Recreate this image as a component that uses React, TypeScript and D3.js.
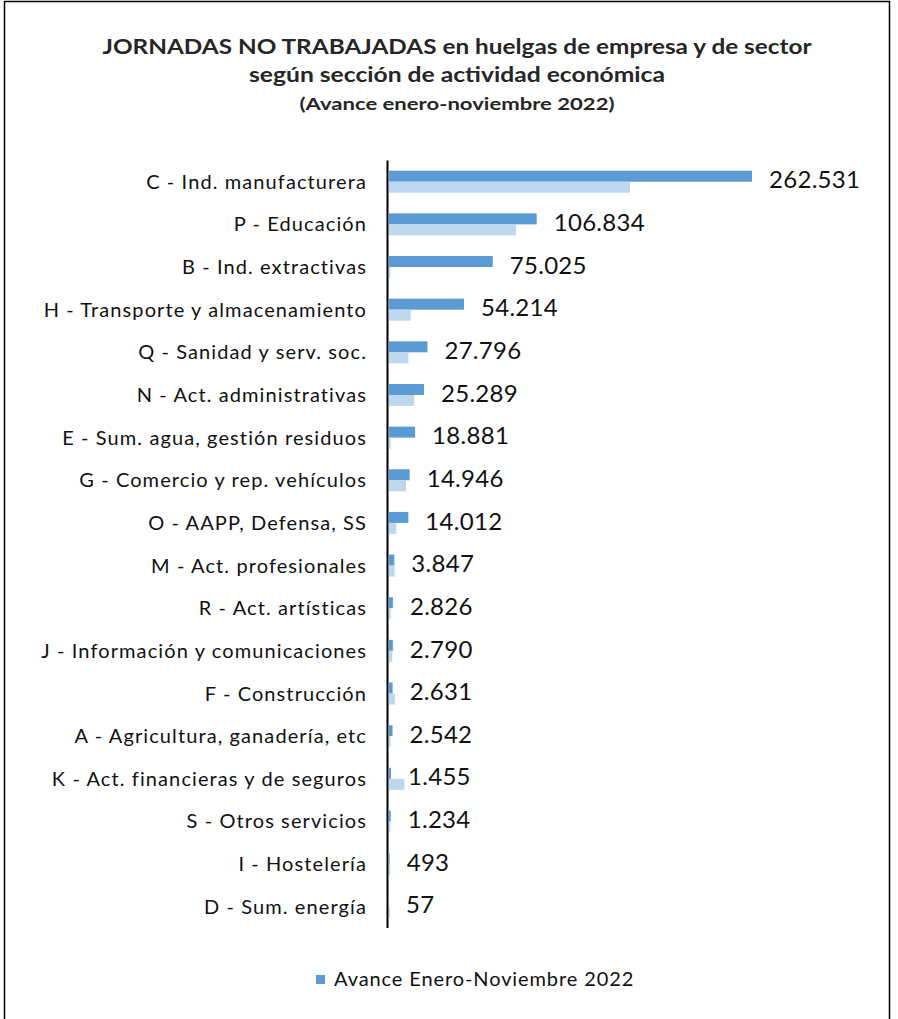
import React from "react";
import * as d3 from "d3";

const categories = [
  "C - Ind. manufacturera",
  "P - Educación",
  "B - Ind. extractivas",
  "H - Transporte y almacenamiento",
  "Q - Sanidad y serv. soc.",
  "N - Act. administrativas",
  "E - Sum. agua, gestión residuos",
  "G - Comercio y rep. vehículos",
  "O - AAPP, Defensa, SS",
  "M - Act. profesionales",
  "R - Act. artísticas",
  "J - Información y comunicaciones",
  "F - Construcción",
  "A - Agricultura, ganadería, etc",
  "K - Act. financieras y de seguros",
  "S - Otros servicios",
  "I - Hostelería",
  "D - Sum. energía",
];

const values2022 = [262531, 106834, 75025, 54214, 27796, 25289, 18881, 14946, 14012, 3847, 2826, 2790, 2631, 2542, 1455, 1234, 493, 57];
const valuesPrev = [174300, 91800, 1000, 15700, 14000, 18300, 1200, 12300, 5300, 4100, 1200, 2400, 4300, 1200, 11100, 1000, 900, 700];

const titleLines = [
  "JORNADAS  NO TRABAJADAS  en huelgas de empresa y de sector",
  "según  sección de actividad  económica",
  "(Avance enero-noviembre  2022)",
];
const legendLabel = "Avance Enero-Noviembre 2022";

const fmt = (v: number) => d3.format(",")(v).replace(/,/g, ".");

export default function App() {
  const W = 898, H = 1019;
  const y = d3.scaleBand<string>().domain(categories).range([160.4, 928.1]).paddingInner(0).paddingOuter(0);
  const x = d3.scaleLinear().domain([0, 262531]).range([389, 752]);
  const bh = 11;
  const font = "Lato, 'Open Sans', sans-serif";
  return (
    <div style={{ position: "absolute", left: 0, top: 0 }}>
      <svg width={W} height={H} style={{ display: "block" }}>
        <rect x={0} y={0} width={W} height={H} fill="#fff" />
        <rect x={4.5} y={1.5} width={885} height={1040} fill="none" stroke="#000" strokeWidth={1.5} />
        <text x={457} y={54} textAnchor="middle" fontFamily={font} fontWeight="bold" fontSize={20} fill="#262626" textLength={709} lengthAdjust="spacingAndGlyphs">{titleLines[0]}</text>
        <text x={457} y={82} textAnchor="middle" fontFamily={font} fontWeight="bold" fontSize={20} fill="#262626" textLength={416} lengthAdjust="spacingAndGlyphs">{titleLines[1]}</text>
        <text x={457} y={110} textAnchor="middle" fontFamily={font} fontWeight="bold" fontSize={17} fill="#262626" textLength={315} lengthAdjust="spacingAndGlyphs">{titleLines[2]}</text>
        {categories.map((c, i) => {
          const c0 = (y(c) as number) + y.bandwidth() / 2;
          return (
            <g key={c}>
              <rect x={x(0)} y={c0 - bh} width={x(values2022[i]) - x(0)} height={bh} fill="#5B9BD5" />
              <rect x={x(0)} y={c0} width={x(valuesPrev[i]) - x(0)} height={bh} fill="#BDD7EE" />
              <text x={367} y={c0} dy="0.35em" textAnchor="end" fontFamily={font} fontSize={20} letterSpacing={1.1} fill="#111">{c}</text>
              <text x={x(values2022[i]) + 17} y={c0 - 2} dy="0.36em" fontFamily={font} fontSize={24} letterSpacing={0.3} fill="#111">{fmt(values2022[i])}</text>
            </g>
          );
        })}
        <line x1={387.5} x2={387.5} y1={160.4} y2={928.1} stroke="#000" strokeWidth={2} />
        <rect x={316} y={975} width={9} height={9} fill="#5B9BD5" />
        <text x={334} y={986} fontFamily={font} fontSize={20} letterSpacing={0.9} fill="#111">{legendLabel}</text>
      </svg>
    </div>
  );
}
